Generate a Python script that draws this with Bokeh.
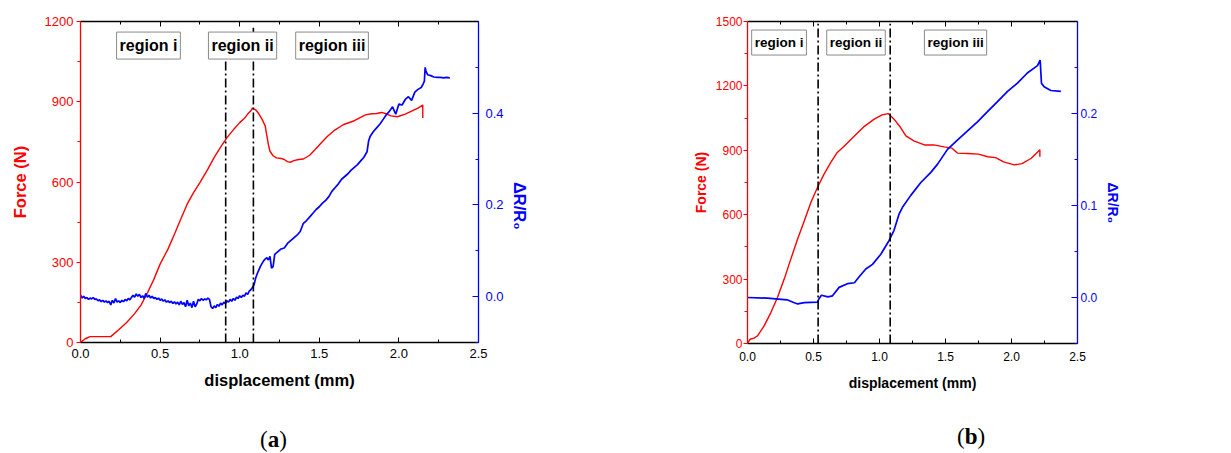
import math
from bokeh.plotting import figure
from bokeh.models import (Range1d, LinearAxis, Label, SingleIntervalTicker,
                          PrintfTickFormatter, CustomJSTickFormatter, Div)
from bokeh.layouts import row, column
from bokeh.embed import file_html
from bokeh.resources import INLINE

# ---------------- data: panel (a) ----------------
force_a_x = [0.00, 0.03, 0.06, 0.10, 0.15, 0.19, 0.24, 0.29, 0.34, 0.38, 0.42, 0.46, 0.50,
             0.55, 0.59, 0.63, 0.67, 0.71, 0.75, 0.80, 0.84, 0.88, 0.92, 0.96, 1.00, 1.03,
             1.05, 1.07, 1.08, 1.10, 1.12, 1.14, 1.16, 1.17, 1.18, 1.19, 1.21, 1.23, 1.26,
             1.28, 1.30, 1.32, 1.34, 1.37, 1.40, 1.44, 1.48, 1.51, 1.55, 1.59, 1.65, 1.72,
             1.79, 1.83, 1.86, 1.89, 1.92, 1.95, 1.99, 2.04, 2.09, 2.12, 2.15, 2.15]
force_a = [0, 14, 22, 22, 22, 22, 48, 75, 108, 140, 185, 235, 293, 350, 405, 462, 517, 560,
           598, 648, 692, 730, 766, 795, 822, 838, 854, 866, 876, 870, 855, 835, 810, 775,
           741, 715, 698, 690, 688, 684, 676, 674, 680, 684, 686, 700, 725, 745, 770, 791,
           814, 829, 851, 855, 856, 860, 855, 847, 844, 854, 868, 876, 888, 839]

dr_a_x = [0.00, 0.01, 0.02, 0.03, 0.04, 0.05, 0.06, 0.07, 0.08, 0.09, 0.10, 0.11, 0.12,
          0.13, 0.14, 0.15, 0.16, 0.17, 0.18, 0.19, 0.20, 0.21, 0.22, 0.23, 0.24, 0.25,
          0.26, 0.27, 0.28, 0.29, 0.30, 0.31, 0.32, 0.33, 0.34, 0.35, 0.36, 0.37, 0.38,
          0.39, 0.40, 0.41, 0.42, 0.43, 0.44, 0.45, 0.46, 0.47, 0.48, 0.49, 0.50, 0.51,
          0.52, 0.53, 0.54, 0.55, 0.56, 0.57, 0.58, 0.59, 0.60, 0.61, 0.62, 0.63, 0.64,
          0.65, 0.66, 0.67, 0.68, 0.69, 0.70, 0.71, 0.72, 0.73, 0.74, 0.75, 0.76, 0.77,
          0.78, 0.79, 0.80, 0.81, 0.82, 0.83, 0.84, 0.85, 0.86, 0.87, 0.88, 0.89, 0.90,
          0.91, 0.92, 0.93, 0.94, 0.95, 0.96, 0.97, 0.98, 0.99, 1.00, 1.01, 1.02, 1.03,
          1.04, 1.05, 1.06, 1.07, 1.08, 1.09, 1.10, 1.11, 1.12, 1.13, 1.14, 1.15, 1.16,
          1.17, 1.18, 1.19, 1.20, 1.21, 1.22, 1.24, 1.26, 1.28, 1.30, 1.32, 1.34, 1.36,
          1.38, 1.40, 1.42, 1.44, 1.46, 1.48, 1.50, 1.52, 1.54, 1.56, 1.58, 1.60, 1.62,
          1.64, 1.66, 1.68, 1.70, 1.72, 1.74, 1.76, 1.78, 1.80, 1.81, 1.82, 1.84, 1.86,
          1.88, 1.90, 1.92, 1.94, 1.96, 1.98, 2.00, 2.02, 2.04, 2.06, 2.08, 2.10, 2.12,
          2.14, 2.15, 2.16, 2.165, 2.17, 2.18, 2.20, 2.22, 2.24, 2.26, 2.28, 2.30, 2.32]
dr_a = [0.004, -0.003, 0.001, -0.004, -0.002, -0.006, -0.003, -0.005, -0.002, -0.006,
        -0.005, -0.009, -0.007, -0.011, -0.008, -0.012, -0.009, -0.013, -0.010, -0.018,
        -0.008, -0.014, -0.004, -0.012, -0.009, -0.013, -0.008, -0.011, -0.006, -0.009,
        -0.004, -0.007, -0.002, 0.003, -0.001, 0.006, 0.001, 0.005, -0.002, 0.002,
        -0.004, 0.007, -0.001, 0.003, -0.003, 0.001, -0.004, -0.002, -0.006, -0.003,
        -0.008, -0.005, -0.010, -0.007, -0.012, -0.009, -0.013, -0.010, -0.015, -0.011,
        -0.016, -0.012, -0.018, -0.010, -0.017, -0.013, -0.022, -0.008, -0.020, -0.014,
        -0.024, -0.010, -0.022, -0.016, -0.006, -0.009, -0.004, -0.008, -0.005, -0.007,
        -0.003, -0.006, -0.022, -0.026, -0.020, -0.024, -0.017, -0.021, -0.014, -0.018,
        -0.012, -0.015, -0.009, -0.012, -0.006, -0.010, -0.004, -0.008, -0.001, -0.004,
        0.002, -0.002, 0.003, 0.001, 0.008, 0.005, 0.012, 0.015, 0.020, 0.026, 0.040,
        0.050, 0.058, 0.066, 0.072, 0.078, 0.082, 0.085, 0.080, 0.088, 0.062, 0.066,
        0.092, 0.098, 0.104, 0.106, 0.116, 0.122, 0.128, 0.134, 0.142, 0.160, 0.166,
        0.174, 0.182, 0.190, 0.196, 0.204, 0.210, 0.218, 0.230, 0.238, 0.246, 0.256,
        0.262, 0.268, 0.276, 0.282, 0.288, 0.296, 0.304, 0.316, 0.340, 0.350, 0.360,
        0.368, 0.376, 0.386, 0.396, 0.404, 0.414, 0.398, 0.420, 0.418, 0.430, 0.436,
        0.428, 0.446, 0.452, 0.456, 0.462, 0.470, 0.500, 0.492, 0.484, 0.482, 0.479,
        0.478, 0.478, 0.477, 0.478, 0.477]

bounds_a = [0.912, 1.086]
bounds_a_top = [1150, 1177]

# ---------------- data: panel (b) ----------------
force_b_x = [0.00, 0.02, 0.05, 0.076, 0.126, 0.177, 0.227, 0.278, 0.328, 0.379, 0.43, 0.48,
             0.53, 0.58, 0.63, 0.68, 0.73, 0.81, 0.88, 0.96, 1.02, 1.066, 1.11, 1.16, 1.20,
             1.26, 1.34, 1.41, 1.49, 1.55, 1.59, 1.67, 1.75, 1.82, 1.88, 1.94, 2.02, 2.08,
             2.15, 2.215, 2.215]
force_b = [0, 20, 25, 36, 82, 144, 214, 300, 393, 486, 571, 657, 727, 789, 843, 890, 918,
           967, 1009, 1045, 1065, 1071, 1045, 1006, 967, 944, 925, 925, 916, 910, 887, 885,
           882, 870, 866, 846, 832, 838, 863, 902, 870]

dr_b_x = [0.00, 0.15, 0.30, 0.35, 0.38, 0.43, 0.53, 0.543, 0.56, 0.61, 0.644, 0.694, 0.757,
          0.81, 0.846, 0.896, 0.947, 1.01, 1.073, 1.11, 1.149, 1.174, 1.237, 1.313, 1.389,
          1.44, 1.515, 1.59, 1.667, 1.742, 1.818, 1.894, 1.97, 2.045, 2.12, 2.197, 2.217,
          2.227, 2.247, 2.298, 2.374]
dr_b = [0.000, -0.0007, -0.0025, -0.0055, -0.007, -0.0055, -0.005, -0.001, 0.0025, 0.0007,
        0.0018, 0.011, 0.015, 0.016, 0.0225, 0.031, 0.036, 0.047, 0.062, 0.073, 0.091,
        0.098, 0.111, 0.125, 0.136, 0.145, 0.161, 0.171, 0.181, 0.191, 0.202, 0.213,
        0.224, 0.233, 0.244, 0.252, 0.258, 0.233, 0.229, 0.225, 0.224]

bounds_b = [0.535, 1.081]
bounds_b_top = [1490, 1490]

region_names = ["region i", "region ii", "region iii"]
region_a_x = [0.427, 1.018, 1.58]
region_a_y = 1110
region_b_x = [0.239, 0.822, 1.576]
region_b_y = 1402

x_label = "displacement (mm)"
force_label = "Force (N)"
dr_label = "ΔR/R₀"
captions = ["a", "b"]

RED = "#FF0000"
BLUE = "#0000FF"
FONT = "Liberation Sans"


def style_axis(ax, color, tin, tout, tick_sz, lab_sz):
    ax.axis_line_color = color
    ax.axis_line_width = 1.3
    ax.major_tick_line_color = color
    ax.minor_tick_line_color = color
    ax.major_label_text_color = color
    ax.axis_label_text_color = color
    ax.major_tick_in = tin
    ax.major_tick_out = tout
    ax.minor_tick_in = 3 if tin else 0
    ax.minor_tick_out = 3 if tout else 0
    ax.major_label_text_font = FONT
    ax.major_label_text_font_size = tick_sz
    ax.axis_label_text_font = FONT
    ax.axis_label_text_font_size = lab_sz
    ax.axis_label_text_font_style = "bold"


def panel(fx, fy, dx, dy, bounds, btops, ymax, drlo, drhi, drint, rx, ry,
          mb_left, fw, fh, mb_right, mb_top, mb_bottom, st, tick_sz, lab_sz, reg_sz):
    p = figure(frame_width=fw, frame_height=fh, min_border_left=mb_left,
               min_border_right=mb_right, min_border_top=mb_top,
               min_border_bottom=mb_bottom, output_backend="svg",
               toolbar_location=None, x_range=Range1d(0, 2.5),
               y_range=Range1d(0, ymax))
    p.extra_y_ranges = {"dr": Range1d(drlo, drhi)}
    p.outline_line_color = None
    p.xgrid.visible = False
    p.ygrid.visible = False
    p.background_fill_color = "white"
    p.border_fill_color = "white"

    # bottom axis
    xa = p.xaxis[0]
    xa.ticker = SingleIntervalTicker(interval=0.5, num_minor_ticks=2)
    xa.formatter = PrintfTickFormatter(format="%.1f")
    style_axis(xa, "black", 5, 0, tick_sz, lab_sz)
    xa.axis_label = x_label
    xa.major_label_standoff = st["xl"]
    xa.axis_label_standoff = st["xa"]

    # left axis
    ya = p.yaxis[0]
    ya.ticker = SingleIntervalTicker(interval=300, num_minor_ticks=2)
    style_axis(ya, RED, 0, 4, tick_sz, lab_sz)
    ya.axis_label = force_label
    ya.major_label_standoff = st["yl"]
    ya.axis_label_standoff = st["ya"]

    # right axis
    ra = LinearAxis(y_range_name="dr")
    ra.ticker = SingleIntervalTicker(interval=drint, num_minor_ticks=2)
    ra.formatter = PrintfTickFormatter(format="%.1f")
    style_axis(ra, BLUE, 6, 0, tick_sz, lab_sz)
    ra.axis_label = dr_label
    ra.major_label_standoff = st["rl"]
    ra.axis_label_standoff = st["ra"]
    if "axis_label_orientation" in ra.properties():
        ra.axis_label_orientation = -math.pi / 2
    p.add_layout(ra, "right")

    # top axis (ticks only)
    ta = LinearAxis()
    ta.ticker = SingleIntervalTicker(interval=0.5, num_minor_ticks=2)
    ta.formatter = CustomJSTickFormatter(code="return '';")
    style_axis(ta, "black", 5, 0, tick_sz, lab_sz)
    ta.major_label_standoff = 0
    p.add_layout(ta, "above")

    p.line(fx, fy, line_color=RED, line_width=1.4)
    p.line(dx, dy, line_color=BLUE, line_width=1.7, y_range_name="dr")
    p.segment(x0=bounds, y0=[0, 0], x1=bounds, y1=btops, line_color="black",
              line_width=1.6, line_dash="9 3 2 3")

    pad = dict(left=3, right=3, top=5, bottom=5)
    for name, cx in zip(region_names, rx):
        sh = Label(x=cx, y=ry, text=name, text_align="center", text_baseline="middle",
                   text_font=FONT, text_font_size=reg_sz, text_font_style="bold",
                   text_alpha=0, background_fill_color="#6a6a6a",
                   x_offset=1.5, y_offset=-1.5, padding=pad)
        lb = Label(x=cx, y=ry, text=name, text_align="center", text_baseline="middle",
                   text_font=FONT, text_font_size=reg_sz, text_font_style="bold",
                   text_color="black", background_fill_color="white",
                   border_line_color="#8a8a8a", border_line_width=1, padding=pad)
        p.add_layout(sh)
        p.add_layout(lb)
    return p


p1 = panel(force_a_x, force_a, dr_a_x, dr_a, bounds_a, bounds_a_top, 1200, -0.1, 0.6, 0.2,
           region_a_x, region_a_y, 80, 398, 321, 122, 21, 58,
           dict(xl=6, xa=10, yl=3, ya=13, rl=7, ra=13), "13px", "16.5px", "16px")
p2 = panel(force_b_x, force_b, dr_b_x, dr_b, bounds_b, bounds_b_top, 1500, -0.05, 0.3, 0.1,
           region_b_x, region_b_y, 147, 330, 322, 146, 21, 57,
           dict(xl=8, xa=11, yl=1, ya=4, rl=3, ra=13), "12px", "14px", "13.5px")


def caption(letter, width, left, top):
    html = ('<div style="padding-left:%dpx; padding-top:%dpx; font-family:\'Liberation Serif\';'
            ' font-size:23px; line-height:24px; color:black; white-space:nowrap;">'
            '(<b>%s</b>)</div>' % (left, top, letter))
    d = Div(text=html, width=width, height=48)
    d.margin = (0, 0, 0, 0)
    return d


d1 = caption(captions[0], 600, 260, 28)
d2 = caption(captions[1], 623, 357, 25)

layout = row(column(p1, d1), column(p2, d2))
open("out.html", "w").write(file_html(layout, INLINE))
